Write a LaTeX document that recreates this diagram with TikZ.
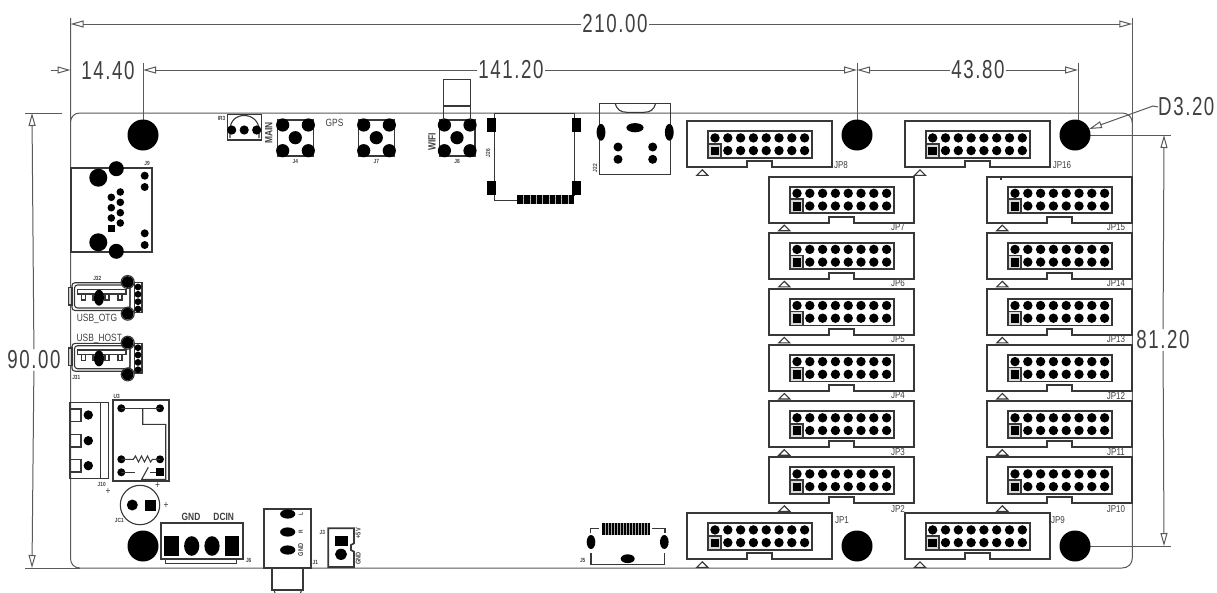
\documentclass[tikz,border=0pt]{standalone}
\usepackage{fontspec}
\setmainfont{Liberation Sans}
\newfontfamily\cadf[FakeStretch=0.8]{Liberation Sans}
\newfontfamily\dimf[FakeStretch=0.72,LetterSpace=6]{Liberation Sans}
\usetikzlibrary{arrows.meta}
\definecolor{dimc}{HTML}{5A5A5A}
\definecolor{compc}{HTML}{383838}
\definecolor{txtc}{HTML}{404040}
\tikzset{
  dimline/.style={draw=dimc,line width=1pt},
  tipped/.style={dimline,-{Triangle[open,fill=white,length=13pt,width=7pt]}},
  dimtext/.style={font=\dimf\fontsize{26}{26}\selectfont,text=txtc,fill=white,inner sep=1.5pt},
  comp/.style={draw=compc,line width=1.1pt},
  heavy/.style={draw=compc,line width=1.7pt},
  blk/.style={fill=black,draw=none},
  lab/.style={font=\cadf\bfseries\fontsize{6}{6}\selectfont,text=txtc,inner sep=0pt},
  jplab/.style={font=\cadf\fontsize{10}{10}\selectfont,text=txtc,inner sep=0pt},
  silk/.style={font=\cadf\fontsize{10.5}{10}\selectfont,text=txtc,inner sep=0pt},
  silkb/.style={font=\cadf\bfseries\fontsize{10.5}{10}\selectfont,text=txtc,inner sep=0pt},
}
% two-row box header
\newcommand\idcbox[6]{%
  \begin{scope}[shift={(#1,#2)}]
    \draw[heavy,line join=miter] (0,0) -- (145,0) -- (145,46) -- (85,46) -- (85,40) -- (60,40) -- (60,46) -- (0,46) -- cycle;
    \draw[heavy,fill=white] (21,10) rectangle (125,36.5);
    \foreach \px in {27.7,40.5,53.3,66.1,78.9,91.7,104.5,117.3} \fill[black] (\px,16.6) circle[radius=4.7];
    \foreach \px in {40.5,53.3,66.1,78.9,91.7,104.5,117.3} \fill[black] (\px,29.3) circle[radius=4.7];
    \draw[heavy,fill=white!85!black] (21,22.6) rectangle (33.7,36.5);
    \fill[black] (23.2,25.2) rectangle (31.6,33.8);
    \draw[comp] (15,48.5) -- (20.5,54) -- (9.5,54) -- cycle;
  \end{scope}
  \node[jplab] (#6) at (#4,#5) {#3};%
}
% tactile switch
\newcommand\tact[3]{%
  \begin{scope}[shift={(#1,0)}]
    \draw[comp] (277.7,120) rectangle (313.3,156);
    \foreach \cx/\cy in {282.7/125,308.3/125,282.7/150.7,308.3/150.7,295.3/137.7} \fill[black] (\cx,\cy) circle[radius=6.6];
  \end{scope}
  \node[lab] (#3) at ({295.3+#1},161) {#2};%
}
% usb socket
\newcommand\usbsock[1]{%
  \begin{scope}[shift={(0,#1)}]
    \draw[comp,rounded corners=3pt] (72,282.7) rectangle (130,310.5);
    \draw[comp,rounded corners=3pt] (74.5,285) rectangle (130,308);
    \draw[comp,fill=white!80!black] (68.3,287.3) rectangle (72,305);
    \draw[comp] (77.3,289.3) rectangle (126,294);
    \foreach \tx in {81.7,93,105,118} \draw[comp] (\tx,294) rectangle ({\tx+4},300);
    \fill[black] (99,297.7) ellipse[x radius=5,y radius=8];
    \draw[comp] (127.7,282) circle[radius=6.5];
    \fill[black] (127.7,282) circle[radius=5.8];
    \draw[comp] (127.7,313.7) circle[radius=6.5];
    \fill[black] (127.7,313.7) circle[radius=5.8];
    \draw[comp] (134.3,282.7) rectangle (142,312.3);
    \foreach \py in {287,294.3,301.7,309} \fill[black] (138,\py) circle[radius=3.4];
  \end{scope}%
}
\begin{document}
\begin{tikzpicture}[x=1pt,y=-1pt]
\useasboundingbox (0,0) rectangle (1217,592);
\fill[white] (0,0) rectangle (1217,592);

% ---- board outline and extension lines
\draw[dimline] (70.5,18) -- (70.5,123) .. controls (70.5,117) and (74,113) .. (80,113) -- (1122,113) .. controls (1128,113) and (1132.3,117) .. (1132.3,123) -- (1132.3,558) .. controls (1132.3,564) and (1128,568) .. (1122,568) -- (80,568) .. controls (74,568) and (70.5,564) .. (70.5,558) -- cycle;
\draw[dimline] (1132.3,18) -- (1132.3,123);
\draw[dimline] (25,113) -- (62,113);
\draw[dimline] (25,568) -- (80,568);
\draw[dimline] (143,63) -- (143,125);
\draw[dimline] (857,63) -- (857,125);
\draw[dimline] (1078,63) -- (1078,125);
\draw[dimline] (1085,135) -- (1171,135);
\draw[dimline] (1085,546) -- (1171,546);

% ---- dimensions
\coordinate (l210) at (70.5,24);
\coordinate (r210) at (1132.3,24);
\node[dimtext] (t210) at (615,24) {210.00};
\draw[tipped] (t210) -- (l210);
\draw[tipped] (t210) -- (r210);

\coordinate (a144s) at (51,70);
\coordinate (a144e) at (70.5,70);
\node[dimtext,fill=none] (t144) at (108,71) {14.40};
\draw[tipped] (a144s) -- (a144e);

\coordinate (l141) at (143,70);
\coordinate (r141) at (857,70);
\node[dimtext] (t141) at (511,70) {141.20};
\draw[tipped] (t141) -- (l141);
\draw[tipped] (t141) -- (r141);

\coordinate (l438) at (857,70);
\coordinate (r438) at (1078,70);
\node[dimtext] (t438) at (978,70) {43.80};
\draw[tipped] (t438) -- (l438);
\draw[tipped] (t438) -- (r438);

\coordinate (t90) at (32,113);
\coordinate (b90) at (32,568);
\node[dimtext] (t900) at (34,360) {90.00};
\draw[tipped] (t900) -- (t90);
\draw[tipped] (t900) -- (b90);

\coordinate (t81) at (1164,135);
\coordinate (b81) at (1164,546);
\node[dimtext] (t812) at (1163,340) {81.20};
\draw[tipped] (t812) -- (t81);
\draw[tipped] (t812) -- (b81);

\node[dimtext,fill=none,anchor=west,inner sep=0pt] (d320) at (1158,107) {D3.20};
\coordinate (d320e) at (1089,129);
\draw[tipped] (d320.west) -- (1153,106) -- (d320e);

% ---- mounting holes
\foreach \hx/\hy in {143/135,857/135,1075/135,143/546,857/546,1075/546} \fill[black] (\hx,\hy) circle[radius=15.5];

% ---- headers
\idcbox{687.3}{121.3}{JP8}{841}{165}{jp8}
\idcbox{905}{121.3}{JP16}{1062}{165}{jp16}
\idcbox{687.3}{513.3}{JP1}{842}{520}{jp1}
\idcbox{905}{513.3}{JP9}{1058}{520}{jp9}
\idcbox{769.3}{176.7}{JP7}{898}{227.3}{jp7}
\idcbox{769.3}{232.8}{JP6}{898}{283.4}{jp6}
\idcbox{769.3}{288.9}{JP5}{898}{339.5}{jp5}
\idcbox{769.3}{345}{JP4}{898}{395.6}{jp4}
\idcbox{769.3}{401.2}{JP3}{898}{451.8}{jp3}
\idcbox{769.3}{457.3}{JP2}{898}{509}{jp2}
\idcbox{987.3}{176.7}{JP15}{1116}{227.3}{jp15}
\idcbox{987.3}{232.8}{JP14}{1116}{283.4}{jp14}
\idcbox{987.3}{288.9}{JP13}{1116}{339.5}{jp13}
\idcbox{987.3}{345}{JP12}{1116}{395.6}{jp12}
\idcbox{987.3}{401.2}{JP11}{1116}{451.8}{jp11}
\idcbox{987.3}{457.3}{JP10}{1116}{509}{jp10}
\fill[compc] (1000,177) rectangle (1002,180);

% ---- IR3
\draw[comp] (227.3,114.3) rectangle (261.7,140);
\draw[comp] (230,138) -- (230,130) .. controls (230,121) and (236,115.5) .. (244.2,115.5) .. controls (252,115.5) and (259,121) .. (259,130) -- (259,138);
\foreach \px in {231.7,244.2,256.7} \fill[black] (\px,130) circle[radius=4.6];
\node[lab] (ir3) at (221.5,118) {IR3};
\node[silkb,rotate=90] (main) at (268.7,133) {MAIN};

% ---- switches
\tact{0}{J4}{j4}
\tact{81}{J7}{j7}
\tact{161.7}{J8}{j8}
\node[silk] (gps) at (334.5,123) {GPS};
\draw[comp] (443.3,120) -- (443.3,79.3) -- (470.7,79.3) -- (470.7,120);
\draw[comp] (443.3,106) -- (470.7,106);
\node[silkb,rotate=90] (wifi) at (432,141.7) {WIFI};

% ---- J26
\draw[comp] (517,200.7) -- (494.3,200.7) -- (494.3,113.3) -- (574.3,113.3) -- (574.3,196);
\foreach \px/\py in {487.3/118,572.3/118,487.3/180.7,572.3/180.7} \fill[black] (\px,\py) rectangle ({\px+8.6},{\py+14});
\fill[black] (517.3,195) rectangle (574.3,204);
\foreach \i in {1,...,8} \fill[white!70!black] ({517.3+\i*6.33-.4},195) rectangle ({517.3+\i*6.33+.4},204);
\node[lab,rotate=90] (j26) at (488,153) {J26};

% ---- J22
\draw[comp] (599.3,103.3) rectangle (670.7,174.3);
\draw[comp] (615,103.3) .. controls (617,110) and (621,112.3) .. (627,112.3) -- (644,112.3) .. controls (650,112.3) and (654,110) .. (655.7,103.3);
\fill[black] (601,132.3) ellipse[x radius=4.4,y radius=8.4];
\fill[black] (669.3,132.3) ellipse[x radius=4.4,y radius=8.4];
\fill[black] (635,127.7) ellipse[x radius=8.6,y radius=4.6];
\foreach \px/\py in {618/147,618/159.3,652.7/147,652.7/159.3} \fill[black] (\px,\py) circle[radius=4.5];
\node[lab,rotate=90] (j22) at (595,168) {J22};

% ---- J9
\draw[heavy] (71.3,168.3) rectangle (152,251.7);
\foreach \px/\py/\pr in {98.3/177.7/9,116.3/168.7/7.5,98.3/242.3/9,116.3/251.3/7.5,144.7/175.7/4,144.7/187/4,144.7/233.3/4,144.7/245/4,120.3/192/3.8,120.3/202.3/3.8,120.3/212.7/3.8,120.3/223/3.8,111.3/197.3/3.8,111.3/207.7/3.8,111.3/218/3.8} \fill[black] (\px,\py) circle[radius=\pr];
\fill[black] (107.5,224.5) rectangle (115,232);
\node[lab] (j9) at (147,163) {J9};

% ---- USB
\usbsock{0}
\usbsock{60.7}
\node[lab] (j32) at (97.3,278) {J32};
\node[silk] (otg) at (97,318.7) {USB\_OTG};
\node[silk] (host) at (99.3,339.3) {USB\_HOST};
\node[lab] (j31) at (76.3,377.3) {J31};

% ---- J10
\draw[comp] (70,402.3) rectangle (108.7,478.3);
\draw[comp] (100.7,402.3) -- (100.7,478.3);
\foreach \py in {409,434.3,459.3} \draw[comp] (70.7,\py) rectangle (81,{\py+12.7});
\foreach \py in {415,440.7,465.7} \fill[black] (88.3,\py) circle[radius=4.7];
\node[lab] (j10) at (101.7,484) {J10};
\node[silk] (plus1) at (108,491.7) {+};

% ---- U3
\draw[heavy] (113,399.7) rectangle (168.7,480.7);
\node[lab] (u3) at (116.7,396) {U3};
\foreach \px/\py in {121.3/408.3,160/408.3,121.3/459.3,160/459.3,121.3/472.3} \fill[black] (\px,\py) circle[radius=4];
\fill[black] (156,468.3) rectangle (164,476.3);
\draw[comp] (121,408.3) -- (160,408.3);
\draw[comp] (142.7,408.3) -- (142.7,424.3) -- (165.7,424.3) -- (165.7,479.3) -- (141.7,479.3) -- (148.3,467.3);
\draw[comp] (121.3,472.3) -- (135,472.3);
\draw[comp] (150,472.3) -- (156,472.3);
\draw[comp] (121.3,459.3) -- (133.3,459.3) -- (135.5,456) -- (138.5,462) -- (141.5,456) -- (144.5,462) -- (147.5,456) -- (150.5,462) -- (152.5,459.3) -- (160,459.3);
\node[silk] (plus2) at (157.7,485.7) {+};

% ---- JC1
\draw[comp] (140,505) circle[radius=19.7];
\fill[black] (132.3,505) circle[radius=5.5];
\fill[black] (144.8,499.5) rectangle (155.8,510.5);
\node[silk] (plus3) at (166,505) {+};
\node[lab] (jc1) at (119.3,520) {JC1};

% ---- J6
\draw[heavy] (161,523) rectangle (242.7,559);
\draw[comp] (165.7,559) -- (165.7,563.7) -- (236.7,563.7) -- (236.7,559);
\fill[black] (164.3,536) rectangle (179.3,555.7);
\fill[black] (225,536) rectangle (239.3,555.7);
\fill[black] (191.7,546) ellipse[x radius=7.6,y radius=9.8];
\fill[black] (212,546) ellipse[x radius=7.6,y radius=9.8];
\node[silkb] (gnd) at (191,517) {GND};
\node[silkb] (dcin) at (223.7,517) {DCIN};
\node[lab] (j6) at (248.7,560) {J6};

% ---- J1
\draw[heavy] (264.3,509.3) rectangle (311.3,567.7);
\foreach \py in {514,532,550} \fill[black] (287.7,\py) ellipse[x radius=7.6,y radius=4.6];
\node[lab,rotate=90] (l1) at (300.7,514) {L};
\node[lab,rotate=90] (r1) at (300.7,532) {R};
\node[lab,rotate=90,font=\cadf\bfseries\fontsize{7}{7}\selectfont] (g1) at (300.7,550) {GND};
\draw[heavy] (272.3,567.7) -- (272.3,590) -- (303.3,590) -- (303.3,567.7);
\draw[comp] (274,590) -- (275,593);
\draw[comp] (301.5,590) -- (300.5,593);
\node[lab] (j1) at (315.3,562.7) {J1};

% ---- J3
\draw[heavy] (328.3,528.3) -- (354,528.3) -- (354,543.3) -- (351,545) -- (351,550) -- (354,551.7) -- (354,567) -- (328.3,567) -- cycle;
\fill[black] (334.5,536.2) rectangle (347.5,545.7);
\fill[black] (341,554.3) ellipse[x radius=6,y radius=5.6];
\node[lab] (j3) at (322.3,532.7) {J3};
\node[lab,rotate=90,font=\cadf\bfseries\fontsize{7}{7}\selectfont] (p5v) at (358.3,533.3) {+5V};
\node[lab,rotate=90,font=\cadf\bfseries\fontsize{7}{7}\selectfont] (g3) at (358.3,558.3) {GND};

% ---- J5
\fill[black] (602.3,523.3) rectangle (650,534.7);
\foreach \i in {1,...,15} \fill[white!65!black] ({602.3+\i*2.98-.35},523.3) rectangle ({602.3+\i*2.98+.35},534.7);
\draw[comp] (590.7,533.3) -- (590.7,528.7) -- (599.3,528.7);
\draw[comp] (652.3,528.7) -- (665,528.7) -- (665,533.3);
\fill[black] (591,542) ellipse[x radius=4.3,y radius=7];
\fill[black] (664.3,542) ellipse[x radius=4.3,y radius=7];
\draw[comp] (591,553.3) -- (591,564.3) -- (664.3,564.3) -- (664.3,553.3);
\fill[black] (627.7,558.7) ellipse[x radius=7,y radius=4.4];
\node[lab] (j5) at (582.7,560.3) {J5};
\end{tikzpicture}
\end{document}
